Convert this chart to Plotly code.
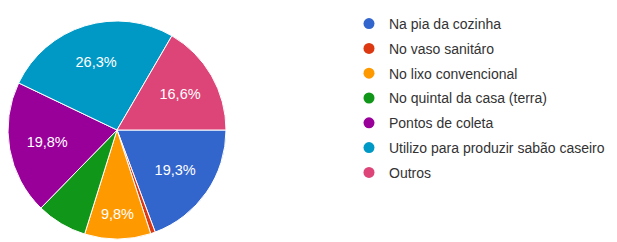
import plotly.graph_objects as go

categories = ["Na pia da cozinha", "No vaso sanitáro", "No lixo convencional",
              "No quintal da casa (terra)", "Pontos de coleta",
              "Utilizo para produzir sabão caseiro", "Outros"]
values = [19.3, 0.7, 9.8, 7.5, 19.8, 26.3, 16.6]
colors = ["#3366CC", "#DC3912", "#FF9900", "#109618", "#990099", "#0099C6", "#DD4477"]

labels_text = [(f"{v:.1f}%".replace(".", ",") if v >= 9 else "") for v in values]

W, H = 617, 242
# page body adds 8px offset; compensate in figure coords
pie_dom = dict(x=[0, 218 / W], y=[11 / H, 229 / H])

fig = go.Figure()
fig.add_trace(go.Pie(
    labels=categories, values=values, sort=False, direction="clockwise",
    rotation=90, textinfo="none",
    marker=dict(colors=colors, line=dict(color="white", width=1)),
    showlegend=False, hoverinfo="label+percent", domain=pie_dom,
))
fig.add_trace(go.Pie(
    labels=categories, values=values, sort=False, direction="clockwise",
    rotation=90, hole=0.3, text=labels_text, textinfo="text",
    textposition="inside", insidetextorientation="horizontal",
    marker=dict(colors=["rgba(0,0,0,0)"] * len(values), line=dict(width=0)),
    textfont=dict(color="white", size=14.5, family="Arial, Liberation Sans"),
    showlegend=False, hoverinfo="skip", domain=pie_dom,
))

for i, (c, col) in enumerate(zip(categories, colors)):
    fig.add_trace(go.Scatter(
        x=[None], y=[None], mode="markers", name=c, legendgroup=f"g{i}",
        marker=dict(color=col, size=11, symbol="circle"), showlegend=True,
    ))

fig.update_layout(
    width=W, height=H, margin=dict(l=0, r=0, t=0, b=0),
    paper_bgcolor="white", plot_bgcolor="white",
    xaxis=dict(visible=False), yaxis=dict(visible=False),
    legend=dict(x=341 / W, xanchor="left", y=1.0, yanchor="top",
                tracegroupgap=3.6, font=dict(size=14, color="#333333",
                family="Arial, Liberation Sans"),
                bgcolor="rgba(0,0,0,0)"),
)
fig.write_html("out.html")
